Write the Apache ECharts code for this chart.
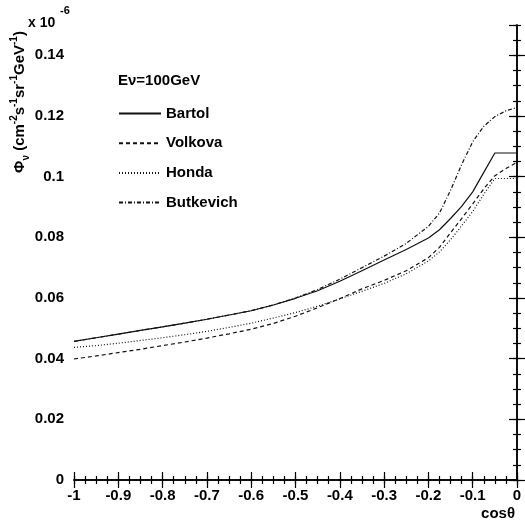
<!DOCTYPE html>
<html>
<head>
<meta charset="utf-8">
<script src="https://cdn.jsdelivr.net/npm/echarts@6/dist/echarts.min.js"></script>
<style>
html,body{margin:0;padding:0;background:#fff;}
#c{width:525px;height:528px;}
</style>
</head>
<body>
<div id="c"></div>
<script>
var cosTheta = [-1,-0.95,-0.9,-0.85,-0.8,-0.75,-0.7,-0.65,-0.6,-0.55,-0.5,-0.45,-0.4,-0.35,-0.3,-0.25,-0.2,-0.175,-0.15,-0.125,-0.1,-0.075,-0.05,-0.025,0];
var bartol = [0.0457,0.0469,0.0481,0.0493,0.0505,0.0517,0.0530,0.0544,0.0558,0.0577,0.0599,0.0624,0.0655,0.0690,0.0725,0.0760,0.0798,0.0825,0.0862,0.0902,0.0950,0.1014,0.1078,0.1078,0.1078];
var volkova = [0.0399,0.0409,0.0420,0.0431,0.0443,0.0455,0.0468,0.0482,0.0497,0.0516,0.0540,0.0568,0.0598,0.0630,0.0658,0.0690,0.0733,0.0767,0.0815,0.0862,0.0910,0.0960,0.1003,0.1027,0.1047];
var honda = [0.0437,0.0443,0.0451,0.0460,0.0469,0.0479,0.0490,0.0503,0.0517,0.0534,0.0552,0.0573,0.0597,0.0622,0.0648,0.0680,0.0722,0.0752,0.0792,0.0838,0.0885,0.0942,0.0994,0.0994,0.0994];
var butkevich = [0.0457,0.0469,0.0481,0.0493,0.0505,0.0517,0.0530,0.0544,0.0558,0.0577,0.0600,0.0628,0.0662,0.0700,0.0738,0.0780,0.0836,0.0880,0.0955,0.1040,0.1115,0.1166,0.1198,0.1217,0.1228];
var seriesNames = ['Bartol','Volkova','Honda','Butkevich'];
var xTickLabels = ['-1','-0.9','-0.8','-0.7','-0.6','-0.5','-0.4','-0.3','-0.2','-0.1','0'];
var yTickLabels = ['0','0.02','0.04','0.06','0.08','0.1','0.12','0.14'];

function pairs(ys){ return cosTheta.map(function(x,i){ return [x, ys[i]]; }); }

var chart = echarts.init(document.getElementById('c'), null, {renderer:'canvas'});
var black = '#000';
var lblFont = {color: black, fontSize: 15, fontWeight: 'bold', fontFamily: 'Liberation Sans, Arial, sans-serif'};
var gridRect = {left: 74, right: 8, top: 25, bottom: 48};

function xAx(gi, pos, interval, len, labels, line){
  return {type:'value', gridIndex: gi, position: pos, min: -1, max: 0, interval: interval,
    axisLine: {show: line, lineStyle: {color: black, width: 1.5}},
    axisTick: {show: true, inside: true, length: len, lineStyle: {color: black, width: 1.2}},
    axisLabel: labels ? Object.assign({show: true, margin: 8, formatter: function(v){
      var i = Math.round((v + 1) * 10); return xTickLabels[i] !== undefined ? xTickLabels[i] : ''; }}, lblFont) : {show: false},
    splitLine: {show: false}};
}
function yAx(gi, pos, interval, len, labels, line){
  return {type:'value', gridIndex: gi, position: pos, min: 0, max: 0.15, interval: interval,
    axisLine: {show: line, lineStyle: {color: black, width: 1.5}},
    axisTick: {show: true, inside: true, length: len, lineStyle: {color: black, width: 1.2}},
    axisLabel: labels ? Object.assign({show: true, margin: 10, showMaxLabel: false, formatter: function(v){
      var i = Math.round(v / 0.02); if (Math.abs(v - i*0.02) > 1e-9) return ''; return yTickLabels[i] !== undefined ? yTickLabels[i] : ''; }}, lblFont) : {show: false},
    splitLine: {show: false}};
}

var styles = [
  {type: 'solid'},
  {type: [4, 3]},
  {type: [1, 2]},
  {type: [4, 2, 1, 2]}
];
var dataSets = [bartol, volkova, honda, butkevich];

var option = {
  backgroundColor: '#fff',
  animation: false,
  grid: [Object.assign({}, gridRect), Object.assign({}, gridRect)],
  xAxis: [
    xAx(0, 'bottom', 0.1, 8, true, true),
    xAx(0, 'top', 0.1, 8, false, true),
    xAx(1, 'bottom', 0.025, 4, false, false),
    xAx(1, 'top', 0.025, 4, false, false)
  ],
  yAxis: [
    yAx(0, 'left', 0.02, 8, true, true),
    yAx(0, 'right', 0.02, 8, false, true),
    yAx(1, 'left', 0.005, 4, false, false),
    yAx(1, 'right', 0.005, 4, false, false)
  ],
  legend: {
    orient: 'vertical', left: 118, top: 106, padding: 0,
    itemWidth: 42, itemHeight: 14, itemGap: 14.7,
    itemStyle: {opacity: 0},
    textStyle: Object.assign({}, lblFont, {fontSize: 15}),
    data: seriesNames
  },
  series: dataSets.map(function(d, i){
    return {name: seriesNames[i], type: 'line', xAxisIndex: 0, yAxisIndex: 0,
      data: pairs(d), symbol: 'none', smooth: false,
      lineStyle: {color: '#111', width: 1.2, type: styles[i].type},
      itemStyle: {color: '#111'}};
  }),
  graphic: [
    {type: 'text', x: 118, y: 81, style: {text: 'E\u03bd=100GeV', fill: black, font: 'bold 15px Liberation Sans, Arial, sans-serif', verticalAlign: 'middle', align: 'left'}},
    {type: 'text', x: 28, y: 23, style: {text: 'x 10', fill: black, font: 'bold 14px Liberation Sans, Arial, sans-serif', verticalAlign: 'middle', align: 'left'}},
    {type: 'text', x: 60, y: 11, style: {text: '-6', fill: black, font: 'bold 11px Liberation Sans, Arial, sans-serif', verticalAlign: 'middle', align: 'left'}},
    {type: 'text', x: 515, y: 514, style: {text: 'cos\u03b8', fill: black, font: 'bold 15px Liberation Sans, Arial, sans-serif', verticalAlign: 'middle', align: 'right'}},
    {type: 'text', x: 20, y: 102, rotation: Math.PI / 2,
      style: {
        text: '{n|\u03a6}{sb|\u03bd}{n| (cm}{sp|-2}{n|s}{sp|-1}{n|sr}{sp|-1}{n|GeV}{sp|-1}{n|)}',
        align: 'center', verticalAlign: 'middle', fill: black,
        font: 'bold 15px Liberation Sans, Arial, sans-serif',
        rich: {
          n: {fontSize: 15, fontWeight: 'bold', fontFamily: 'Liberation Sans, Arial, sans-serif', lineHeight: 22, verticalAlign: 'middle', fill: black},
          sp: {fontSize: 10, fontWeight: 'bold', fontFamily: 'Liberation Sans, Arial, sans-serif', lineHeight: 22, verticalAlign: 'top', fill: black},
          sb: {fontSize: 10, fontWeight: 'bold', fontFamily: 'Liberation Sans, Arial, sans-serif', lineHeight: 22, verticalAlign: 'bottom', fill: black}
        }
      }}
  ]
};
chart.setOption(option);
</script>
</body>
</html>
